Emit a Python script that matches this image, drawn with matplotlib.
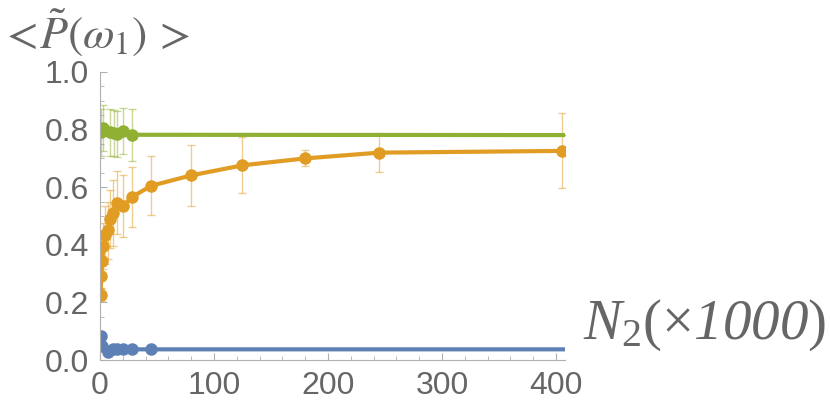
import numpy as np
import matplotlib.pyplot as plt
from matplotlib.ticker import MultipleLocator

plt.rcParams['font.family'] = ['Liberation Sans', 'DejaVu Sans']
plt.rcParams['mathtext.fontset'] = 'custom'
plt.rcParams['mathtext.rm'] = 'Liberation Serif'
plt.rcParams['mathtext.it'] = 'Liberation Serif:italic'
plt.rcParams['mathtext.sf'] = 'Liberation Serif:italic'
plt.rcParams['mathtext.fallback'] = 'stix'

# data (N2 in thousands)
orange_x = [0.5, 1, 2, 3, 4, 7, 9, 11, 15, 20, 28, 45, 80, 125, 180, 245, 405]
orange_y = [0.225, 0.29, 0.345, 0.395, 0.435, 0.45, 0.49, 0.51, 0.546, 0.534,
            0.566, 0.605, 0.641, 0.676, 0.70, 0.72, 0.726]
orange_err = [0.02, 0.04, 0.06, 0.08, 0.1, 0.1, 0.1, 0.115, 0.11, 0.107,
              0.105, 0.103, 0.105, 0.097, 0.028, 0.067, 0.13]

green_x = [0.5, 3, 9, 12, 15, 20, 28, 410]
green_y = [0.79, 0.804, 0.79, 0.788, 0.786, 0.795, 0.782, 0.781]
green_err = [0.08, 0.08, 0.08, 0.08, 0.08, 0.08, 0.09, 0.0]

blue_x = [0.5, 2, 7, 11, 15, 20, 28, 45, 410]
blue_y = [0.085, 0.05, 0.028, 0.037, 0.037, 0.037, 0.037, 0.037, 0.037]

c_blue = '#5E81B5'
c_orange = '#E19C24'
c_green = '#8FB032'

fig = plt.figure(figsize=(8.3, 4.01), dpi=100)
ax = fig.add_axes([100/830, 1-360/401, 465/830, 288/401])

series = [(blue_x, blue_y, None, c_blue),
          (orange_x, orange_y, orange_err, c_orange),
          (green_x, green_y, green_err, c_green)]
for xs, ys, err, col in series:
    if err is not None:
        ax.errorbar(xs, ys, yerr=err, fmt='none', ecolor=col, alpha=0.5,
                    elinewidth=1, capsize=3)
    n = len(xs) if col == c_orange else len(xs) - 1
    ax.plot(xs, ys, '-o', color=col, lw=3, ms=8, markevery=list(range(n)))

ax.set_xlim(0, 408)
ax.set_ylim(0, 1.0)
ax.xaxis.set_major_locator(MultipleLocator(100))
ax.xaxis.set_minor_locator(MultipleLocator(20))
ax.yaxis.set_major_locator(MultipleLocator(0.2))
ax.yaxis.set_minor_locator(MultipleLocator(0.05))
ax.yaxis.set_major_formatter(plt.FuncFormatter(lambda v, p: f'{v:.1f}'))

for s in ['top', 'right']:
    ax.spines[s].set_visible(False)
for s in ['left', 'bottom']:
    ax.spines[s].set_color('#b0b0b0')
ax.tick_params(which='both', direction='in', color='#b0b0b0', labelcolor='#666666',
               labelsize=23)
ax.tick_params(which='major', length=5, pad=8)
ax.tick_params(which='minor', length=3)

fig.text(0.0, 1 - 48/401, r'$<\!\tilde{P}(\omega_1)\,>$', fontsize=33,
         math_fontfamily='stix', color='#666666', ha='left', va='baseline')
fig.text(583/830, 1-325/401, r'$N_2(\times\mathsf{1000})$', fontsize=41,
         color='#666666', ha='left', va='center')

fig.savefig('out.png', dpi=100)
